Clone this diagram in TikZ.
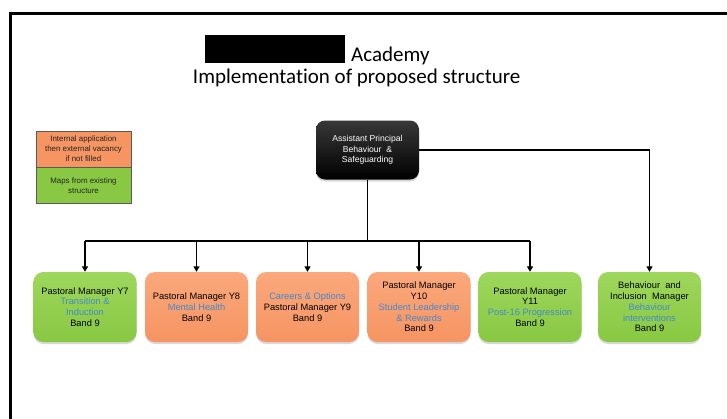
\documentclass[tikz,border=0pt]{standalone}
\usepackage{fontspec}
\setmainfont{Liberation Sans}
\newfontfamily\titlefont[Ligatures=NoCommon]{Carlito}
\usetikzlibrary{arrows.meta,shadows}
\definecolor{pmgreen}{RGB}{136,200,66}
\definecolor{pmgreenlt}{RGB}{158,215,92}
\definecolor{pmorange}{RGB}{246,148,98}
\definecolor{pmorangelt}{RGB}{251,168,124}
\definecolor{roleblue}{RGB}{66,138,206}
\definecolor{legline}{RGB}{90,90,90}
\begin{document}
\begin{tikzpicture}[x=1pt,y=-1pt,
  rolebox/.style={rounded corners=10pt, minimum width=103pt, minimum height=70pt,
    align=center, inner sep=1pt, font=\fontsize{9.3}{10.7}\selectfont,
    drop shadow={opacity=0.3, shadow xshift=0pt, shadow yshift=-2pt}},
  greenbox/.style={rolebox, top color=pmgreenlt, bottom color=pmgreen},
  orangebox/.style={rolebox, top color=pmorangelt, bottom color=pmorange},
  headbox/.style={rounded corners=9pt, minimum width=103pt, minimum height=59pt,
    align=center, inner sep=1pt, text=white, font=\fontsize{8.6}{10.5}\selectfont,
    top color=black!78!white, middle color=black, bottom color=black,
    drop shadow={opacity=0.3, shadow xshift=0pt, shadow yshift=-2pt}},
  legbox/.style={draw=legline, line width=0.6pt, minimum width=95pt, minimum height=36pt,
    align=center, inner sep=1pt, text=black!85, font=\fontsize{7.9}{10}\selectfont},
  link/.style={line width=1.6pt, black},
  arr/.style={link, -{Triangle[length=5.5pt,width=6pt]}}
]
\useasboundingbox (0,0) rectangle (727,418);
\fill[white] (0,0) rectangle (727,418);

% outer frame of the slide
\draw[line width=3pt] (10,440) -- (10,13) -- (760,13);

% title
\node[fill=black, minimum width=140pt, minimum height=28pt, anchor=north west, inner sep=0pt] (redact) at (205,35) {};
\node[anchor=base west, inner sep=0pt, font=\titlefont\fontsize{21}{24}\selectfont] (acad) at (351,61) {Academy};
\node[anchor=base, inner sep=0pt, font=\titlefont\fontsize{21}{24}\selectfont] (sub) at (356.7,83.5) {Implementation of proposed structure};

% legend
\node[legbox, fill=pmorange] (legA) at (83.5,149) {Internal application\\then external vacancy\\if not filled};
\node[legbox, fill=pmgreen, anchor=north] (legB) at (legA.south) {Maps from existing\\structure};

% head of the structure
\node[headbox] (ap) at (367.5,150) {Assistant Principal\\Behaviour\ \ \&\\Safeguarding};

% role boxes
\node[greenbox] (y7) at (85,307) {Pastoral Manager Y7\\\textcolor{roleblue}{Transition \&}\\\textcolor{roleblue}{Induction}\\Band 9};
\node[orangebox] (y8) at (196.5,307) {Pastoral Manager Y8\\\textcolor{roleblue}{Mental Health}\\Band 9};
\node[orangebox] (y9) at (307.5,307) {\textcolor{roleblue}{Careers \& Options}\\Pastoral Manager Y9\\Band 9};
\node[orangebox] (y10) at (419,307) {Pastoral Manager\\Y10\\\textcolor{roleblue}{Student Leadership}\\\textcolor{roleblue}{\& Rewards}\\Band 9};
\node[greenbox] (y11) at (530,307) {Pastoral Manager\\Y11\\\textcolor{roleblue}{Post-16 Progression}\\Band 9};
\node[greenbox] (bim) at (649.5,307) {Behaviour\ \ and\\Inclusion\ \ Manager\\\textcolor{roleblue}{Behaviour}\\\textcolor{roleblue}{interventions}\\Band 9};

% connectors
\coordinate (busL) at (85,241);
\coordinate (busR) at (530,241);
\draw[link] (ap.south) -- (ap.south |- busL);
\draw[link] (busL) -- (busR);
\foreach \r in {y7,y8,y9,y10,y11}
  \draw[arr] (\r.north |- busL) -- (\r.north);
\draw[arr] (ap.east) -| (bim.north);
\end{tikzpicture}
\end{document}
